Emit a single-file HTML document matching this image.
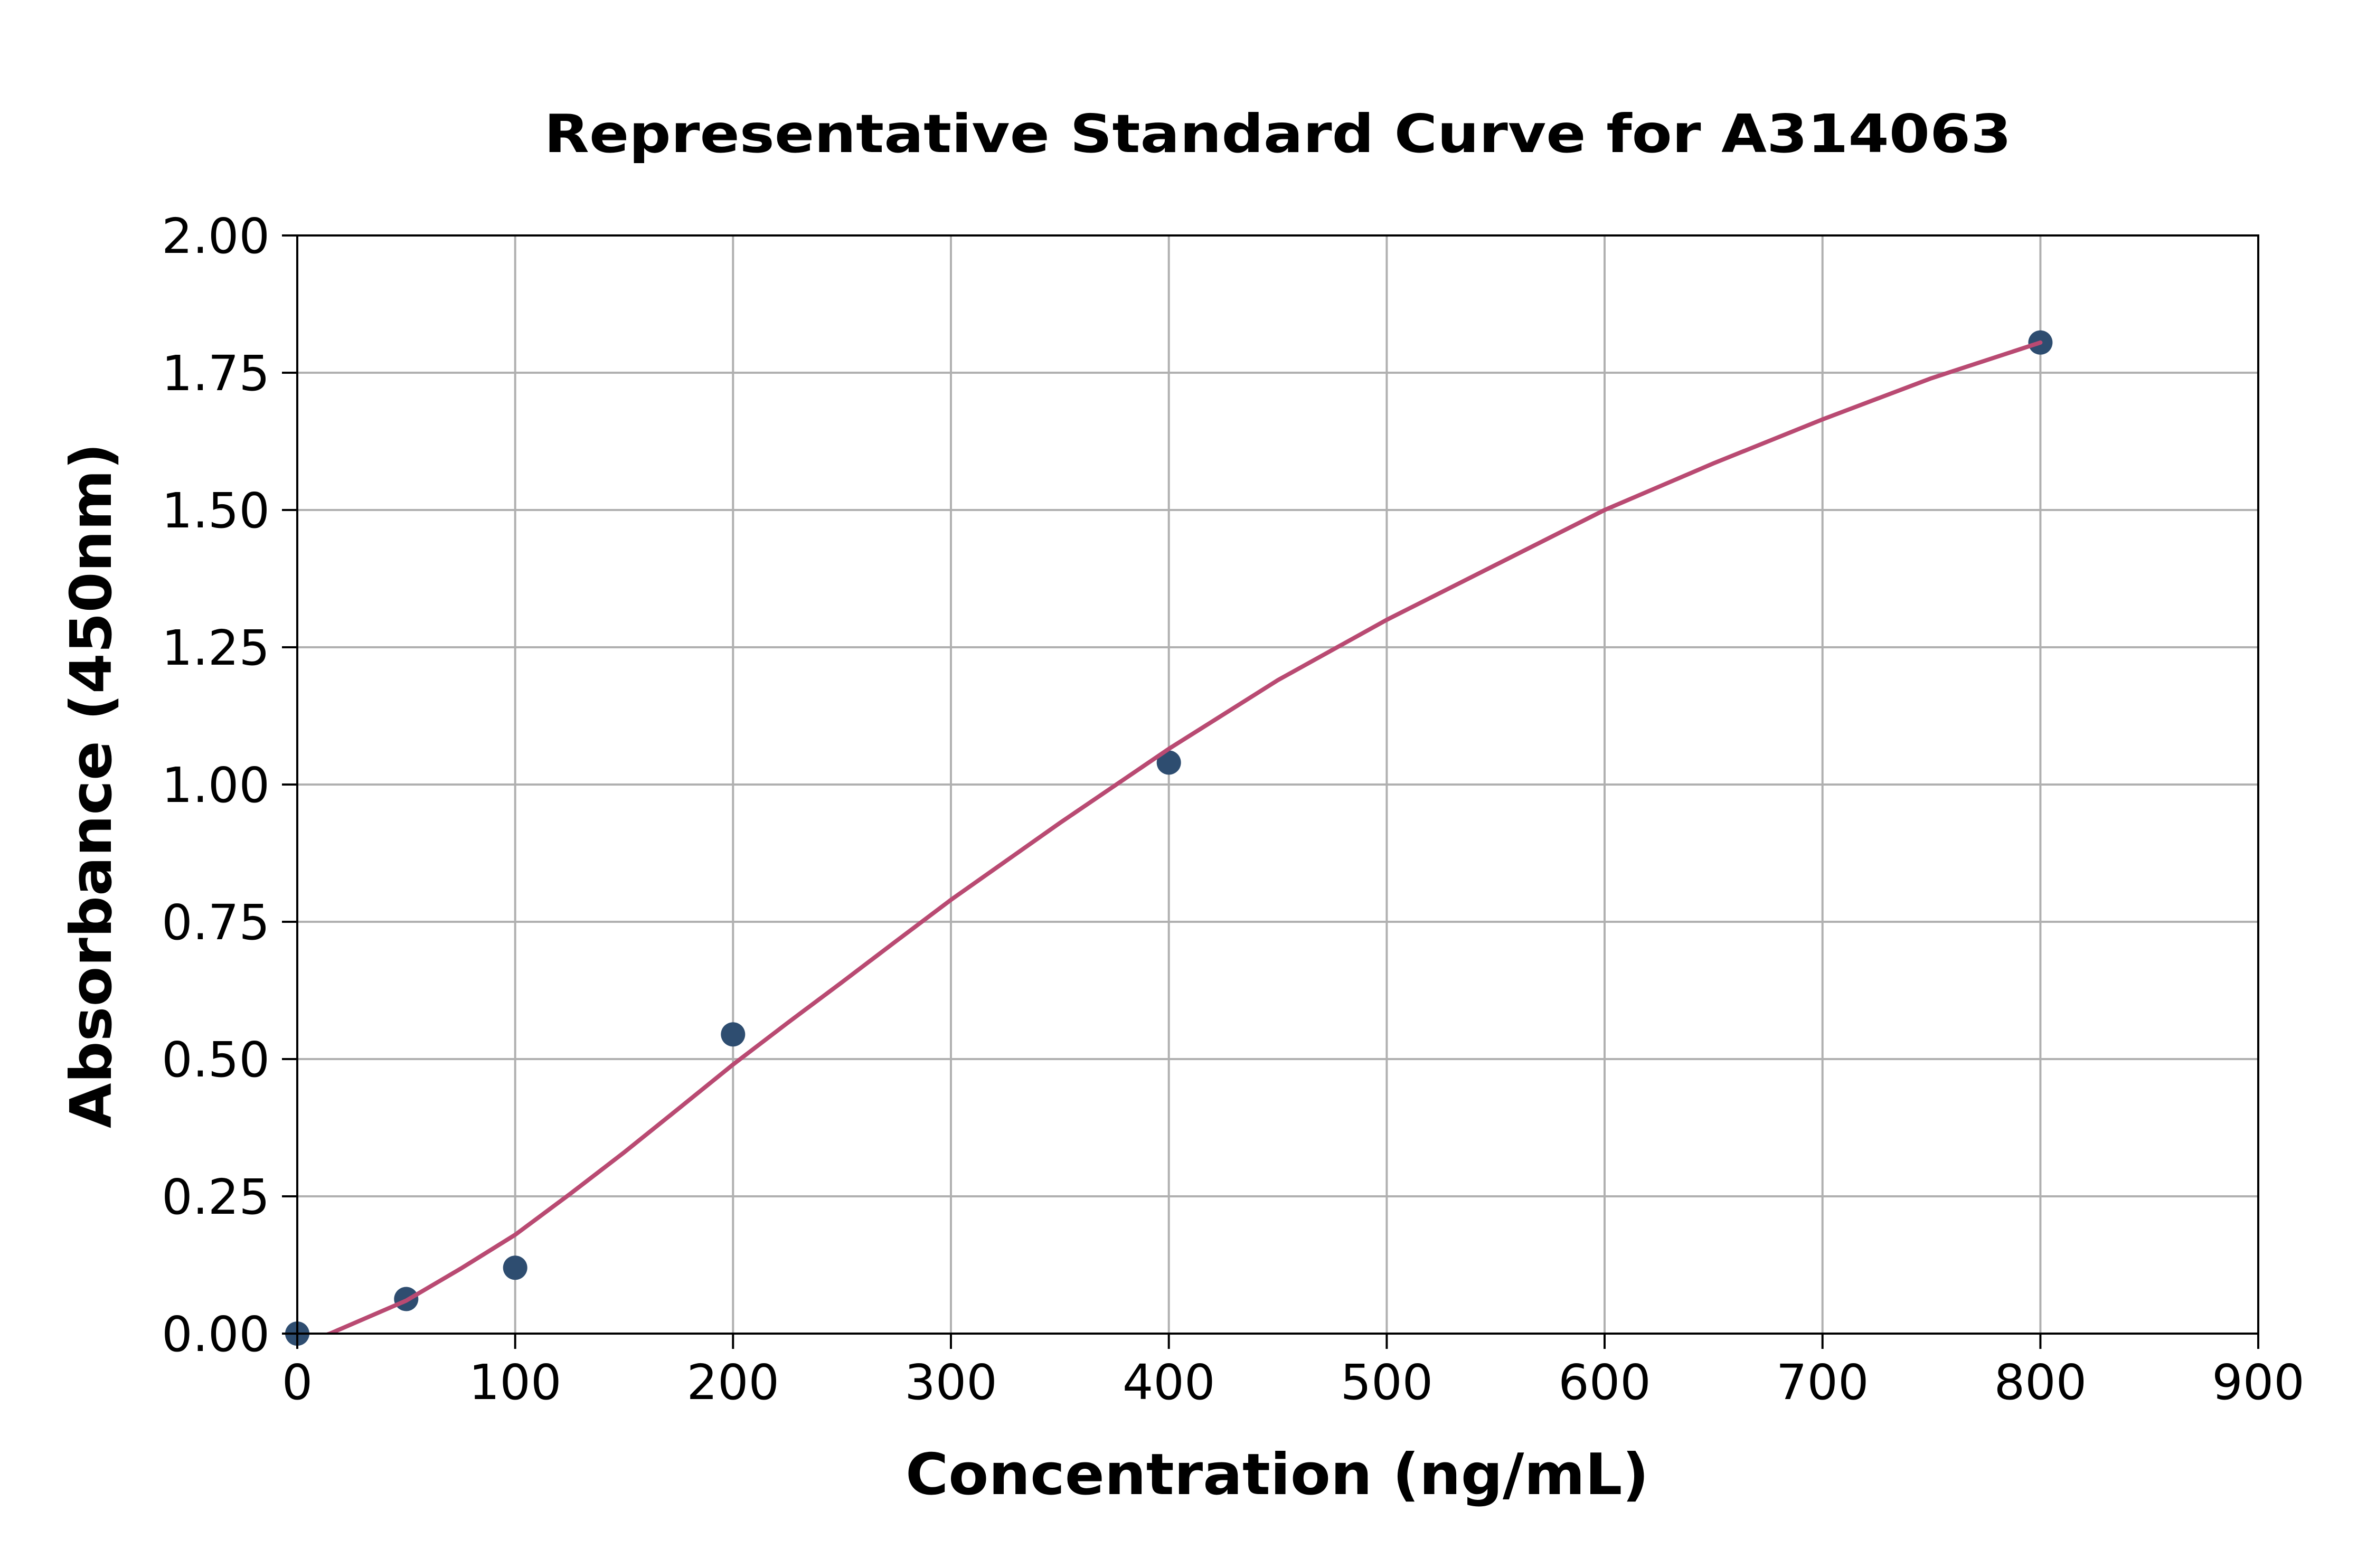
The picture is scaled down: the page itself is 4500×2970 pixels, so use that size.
<!DOCTYPE html>
<html><head><meta charset="utf-8"><style>html,body{margin:0;padding:0;background:#fff}svg{display:block}</style></head>
<body>
<svg width="4500" height="2970" viewBox="0 0 4500 2970" xmlns="http://www.w3.org/2000/svg" font-family="'DejaVu Sans','Liberation Sans',sans-serif">
<rect width="4500" height="2970" fill="#fff"/>
<g stroke="#b0b0b0" stroke-width="4">
<line x1="975.7" y1="446" x2="975.7" y2="2526"/>
<line x1="1388.3" y1="446" x2="1388.3" y2="2526"/>
<line x1="1801" y1="446" x2="1801" y2="2526"/>
<line x1="2213.7" y1="446" x2="2213.7" y2="2526"/>
<line x1="2626.4" y1="446" x2="2626.4" y2="2526"/>
<line x1="3039" y1="446" x2="3039" y2="2526"/>
<line x1="3451.7" y1="446" x2="3451.7" y2="2526"/>
<line x1="3864.4" y1="446" x2="3864.4" y2="2526"/>
<line x1="563" y1="2266" x2="4277" y2="2266"/>
<line x1="563" y1="2006" x2="4277" y2="2006"/>
<line x1="563" y1="1746" x2="4277" y2="1746"/>
<line x1="563" y1="1486" x2="4277" y2="1486"/>
<line x1="563" y1="1226" x2="4277" y2="1226"/>
<line x1="563" y1="966" x2="4277" y2="966"/>
<line x1="563" y1="706" x2="4277" y2="706"/>
</g>
<g fill="#2e4d70">
<circle cx="563" cy="2526" r="23"/>
<circle cx="769.3" cy="2460.5" r="23"/>
<circle cx="975.7" cy="2401.2" r="23"/>
<circle cx="1388.3" cy="1959.2" r="23"/>
<circle cx="2213.7" cy="1444.4" r="23"/>
<circle cx="3864.4" cy="648.8" r="23"/>
</g>
<clipPath id="c"><rect x="563" y="446" width="3714" height="2080"/></clipPath>
<polyline clip-path="url(#c)" fill="none" stroke="#b94a72" stroke-width="8" stroke-linejoin="round" stroke-linecap="round" points="563,2547 624.9,2526 769.3,2463.6 872.5,2403 975.7,2338.8 1079,2262 1182,2182.8 1285,2100 1388.3,2016.4 1491,1938 1594.7,1860.4 1698,1782 1801,1704.4 2007.3,1558.8 2213.7,1418.4 2420,1288.4 2626.4,1174 2832.7,1070 3039,966 3245.4,877.6 3451.7,794.4 3658,716.4 3864.4,648.8"/>
<rect x="563" y="446" width="3714" height="2080" fill="none" stroke="#000" stroke-width="4"/>
<g stroke="#000" stroke-width="4">
<line x1="563" y1="2526" x2="563" y2="2555"/><line x1="975.7" y1="2526" x2="975.7" y2="2555"/><line x1="1388.3" y1="2526" x2="1388.3" y2="2555"/><line x1="1801" y1="2526" x2="1801" y2="2555"/><line x1="2213.7" y1="2526" x2="2213.7" y2="2555"/><line x1="2626.4" y1="2526" x2="2626.4" y2="2555"/><line x1="3039" y1="2526" x2="3039" y2="2555"/><line x1="3451.7" y1="2526" x2="3451.7" y2="2555"/><line x1="3864.4" y1="2526" x2="3864.4" y2="2555"/><line x1="4277" y1="2526" x2="4277" y2="2555"/>
<line x1="534" y1="2526" x2="563" y2="2526"/><line x1="534" y1="2266" x2="563" y2="2266"/><line x1="534" y1="2006" x2="563" y2="2006"/><line x1="534" y1="1746" x2="563" y2="1746"/><line x1="534" y1="1486" x2="563" y2="1486"/><line x1="534" y1="1226" x2="563" y2="1226"/><line x1="534" y1="966" x2="563" y2="966"/><line x1="534" y1="706" x2="563" y2="706"/><line x1="534" y1="446" x2="563" y2="446"/>
</g>
<g font-size="92" text-anchor="middle" fill="#000">
<text x="563" y="2650">0</text><text x="975.7" y="2650">100</text><text x="1388.3" y="2650">200</text><text x="1801" y="2650">300</text><text x="2213.7" y="2650">400</text><text x="2626.4" y="2650">500</text><text x="3039" y="2650">600</text><text x="3451.7" y="2650">700</text><text x="3864.4" y="2650">800</text><text x="4277" y="2650">900</text>
</g>
<g font-size="92" text-anchor="end" fill="#000">
<text x="511" y="2559">0.00</text><text x="511" y="2299">0.25</text><text x="511" y="2039">0.50</text><text x="511" y="1779">0.75</text><text x="511" y="1519">1.00</text><text x="511" y="1259">1.25</text><text x="511" y="999">1.50</text><text x="511" y="739">1.75</text><text x="511" y="479">2.00</text>
</g>
<text x="2420" y="288" font-size="100" font-weight="bold" text-anchor="middle" textLength="2779" lengthAdjust="spacingAndGlyphs">Representative Standard Curve for A314063</text>
<text x="2419" y="2830" font-size="108" font-weight="bold" text-anchor="middle" textLength="1408" lengthAdjust="spacingAndGlyphs">Concentration (ng/mL)</text>
<text transform="translate(210,1488) rotate(-90)" font-size="108" font-weight="bold" text-anchor="middle" textLength="1298" lengthAdjust="spacingAndGlyphs">Absorbance (450nm)</text>
</svg>
</body></html>
